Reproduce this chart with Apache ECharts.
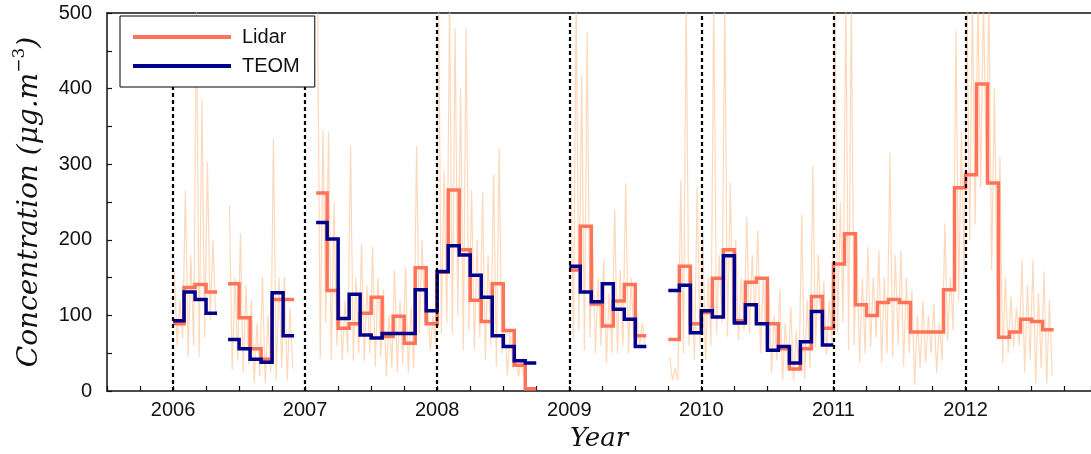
<!DOCTYPE html>
<html>
<head>
<meta charset="utf-8">
<script src="https://cdn.jsdelivr.net/npm/echarts@6/dist/echarts.min.js"></script>
<style>
  html, body { margin: 0; padding: 0; background: #fff; }
  #chart { width: 1091px; height: 454px; }
</style>
</head>
<body>
<div id="chart"></div>
<script>
// monthly means, one array per continuous stretch, first month given in *Start
const lidarStart = ['2006-01', '2006-06', '2007-02', '2009-01', '2009-10'];
const lidarMonthly = [
  [89, 137, 141, 131],
  [142, 97, 56, 42, 121, 121],
  [262, 133, 83, 89, 103, 124, 72, 99, 63, 163, 89,
   157, 266, 187, 120, 92, 142, 80, 34, 3],
  [160, 218, 115, 86, 119, 141, 73],
  [68, 165, 89,
   104, 149, 187, 93, 144, 149, 89, 56, 29, 56, 125, 83,
   168, 208, 114, 100, 117, 121, 117, 78, 78, 78, 134, 269,
   286, 406, 275, 71, 78, 95, 92, 81]
];

const teomStart = ['2006-01', '2006-06', '2007-02', '2009-01', '2009-10'];
const teomMonthly = [
  [93, 131, 121, 103],
  [68, 56, 42, 38, 130, 73],
  [223, 201, 96, 128, 74, 70, 76, 76, 76, 134, 106,
   158, 192, 180, 153, 124, 73, 59, 40, 37],
  [165, 131, 118, 142, 108, 95, 59],
  [133, 140, 77,
   106, 98, 179, 90, 114, 89, 54, 59, 37, 65, 105, 61]
];

// raw lidar retrievals, four readings per month (peaks and troughs)
const rawStart = ['2006-01', '2006-06', '2007-02', '2009-01', '2009-10'];
const rawValues = [
  [158, 60, 120, 70,  266, 45, 180, 60,  520, 45, 386, 70,  303, 94, 200, 100],
  [246, 28, 150, 40,  209, 24, 140, 35,  120, 10, 90, 20,  151, 10, 100, 25,
   334, 14, 150, 30,  151, 14, 110, 30],
  [520, 43, 345, 90,  343, 41, 250, 60,  143, 41, 120, 50,  324, 40, 150, 50,
   195, 39, 140, 50,  191, 32, 150, 45,  134, 19, 100, 30,  160, 25, 120, 35,
   164, 24, 110, 30,  324, 76, 200, 90,  120, 54, 100, 60,
   520, 76, 292, 90,  520, 76, 480, 100, 400, 54, 480, 80,  266, 54, 200, 70,
   263, 41, 180, 60,  286, 32, 321, 50,  98, 19, 80, 30,  54, 19, 40, 20],
  [305, 67, 520, 80,  418, 54, 475, 70,  191, 50, 150, 60,  173, 37, 130, 50,
   240, 50, 160, 60,  275, 50, 150, 60,  103, 58, 90, 60],
  [45, 14, 30, 14,  279, 50, 520, 60,  150, 41, 270, 60,
   213, 41, 150, 60,  520, 76, 180, 90,  520, 72, 275, 90,  200, 67, 150, 80,
   230, 76, 180, 90,  213, 50, 150, 60,  134, 24, 100, 40,  134, 14, 90, 30,
   111, 14, 80, 25,  233, 16, 120, 30,  298, 58, 180, 70,  145, 48, 120, 60,
   520, 76, 250, 90,  520, 54, 520, 60,  195, 37, 150, 50,  191, 58, 150, 70,
   186, 37, 150, 50,  315, 45, 180, 60,  186, 32, 150, 50,  134, 8, 100, 30,
   120, 37, 100, 50,  116, 24, 90, 40,  222, 67, 150, 80,  477, 120, 343, 150,
   520, 200, 520, 220, 520, 270, 520, 300, 520, 160, 400, 120, 310, 37, 150, 50,
   125, 58, 110, 60,  173, 24, 140, 40,  173, 10, 130, 30,  158, 10, 120, 20]
];

const yearMarks = [2006, 2007, 2008, 2009, 2010, 2011, 2012];

const LIDAR_COLOR = '#ff7358';
const TEOM_COLOR = '#00008c';
const RAW_COLOR = 'rgba(255, 190, 140, 0.6)';
const SANS = 'Liberation Sans, Arial, sans-serif';
const SERIF = 'DejaVu Serif, Liberation Serif, serif';

function monthX(start, offset) {
  const [y, m] = start.split('-').map(Number);
  return y + (m - 1 + offset) / 12;
}

function stepSeries(name, color, z, starts, segments) {
  return segments.map((vals, s) => {
    const pts = vals.map((v, i) => [monthX(starts[s], i), v]);
    // close the last month
    pts.push([monthX(starts[s], vals.length), vals[vals.length - 1]]);
    return {
      name,
      type: 'line',
      step: 'end',
      z,
      data: pts,
      showSymbol: false,
      silent: true,
      itemStyle: { color },
      lineStyle: { color, width: 3.5, cap: 'butt', join: 'miter' },
    };
  });
}

const rawSeries = rawValues.map((vals, s) => ({
  name: 'raw',
  type: 'line',
  z: 1,
  data: vals.map((v, k) => [monthX(rawStart[s], (k + 0.5) / 4), v]),
  showSymbol: false,
  silent: true,
  lineStyle: { color: RAW_COLOR, width: 1.2 },
  ...(s === 0 ? {
    markLine: {
      silent: true,
      symbol: 'none',
      label: { show: false },
      lineStyle: { color: '#000', type: [4, 3], width: 2.2 },
      data: yearMarks.map((y) => ({ xAxis: y })),
    },
  } : {}),
}));

const chart = echarts.init(document.getElementById('chart'));

chart.setOption({
  animation: false,
  backgroundColor: '#fff',
  grid: { left: 107, right: 0, top: 13, bottom: 63, outerBoundsMode: 'none', containLabel: false },
  legend: {
    data: [
      { name: 'Lidar', icon: 'rect' },
      { name: 'TEOM', icon: 'rect' },
    ],
    orient: 'vertical',
    left: 120,
    top: 16,
    padding: [9, 15, 9, 13],
    itemGap: 5,
    itemWidth: 98,
    itemHeight: 4,
    selectedMode: false,
    backgroundColor: '#fff',
    borderColor: '#000',
    borderWidth: 1,
    borderRadius: 0,
    textStyle: { fontFamily: SANS, fontSize: 20, color: '#111', lineHeight: 24, padding: [0, 0, 0, 6] },
    z: 10,
  },
  xAxis: [{
    type: 'value',
    min: 2005.5,
    max: 2012.95,
    interval: 0.25,
    name: 'Year',
    nameLocation: 'middle',
    nameGap: 35,
    nameTextStyle: { fontFamily: SERIF, fontStyle: 'italic', fontSize: 26, color: '#111' },
    axisLine: { lineStyle: { color: '#111', width: 1.5 } },
    axisTick: { inside: true, length: 5, lineStyle: { color: '#111', width: 1.2 } },
    axisLabel: {
      fontFamily: SANS, fontSize: 20, color: '#111', margin: 9,
      formatter: (v) => (Number.isInteger(v) ? String(v) : ''),
    },
    splitLine: { show: false },
  }, {
    type: 'value',
    position: 'top',
    min: 2005.5,
    max: 2012.95,
    axisLine: { show: true, lineStyle: { color: '#111', width: 1.5 } },
    axisTick: { show: false },
    axisLabel: { show: false },
    splitLine: { show: false },
  }],
  yAxis: {
    type: 'value',
    min: 0,
    max: 500,
    interval: 100,
    name: '{i|Concentration (μg.m}{s|−3}{i|)}',
    nameLocation: 'middle',
    nameGap: 63,
    nameTextStyle: {
      rich: {
        i: { fontFamily: SERIF, fontStyle: 'italic', fontSize: 28, color: '#111', lineHeight: 33, verticalAlign: 'bottom' },
        s: { fontFamily: SERIF, fontSize: 17, color: '#111', lineHeight: 33, verticalAlign: 'top' },
      },
    },
    axisLine: { show: true, lineStyle: { color: '#111', width: 1.5 } },
    axisTick: { show: true, inside: true, length: 5, lineStyle: { color: '#111', width: 1.2 } },
    minorTick: { show: true, splitNumber: 2, length: 5, lineStyle: { color: '#111', width: 1.2 } },
    axisLabel: { fontFamily: SANS, fontSize: 20, color: '#111', margin: 15 },
    splitLine: { show: false },
  },
  series: [
    ...rawSeries,
    ...stepSeries('Lidar', LIDAR_COLOR, 3, lidarStart, lidarMonthly),
    ...stepSeries('TEOM', TEOM_COLOR, 4, teomStart, teomMonthly),
  ],
});
</script>
</body>
</html>
